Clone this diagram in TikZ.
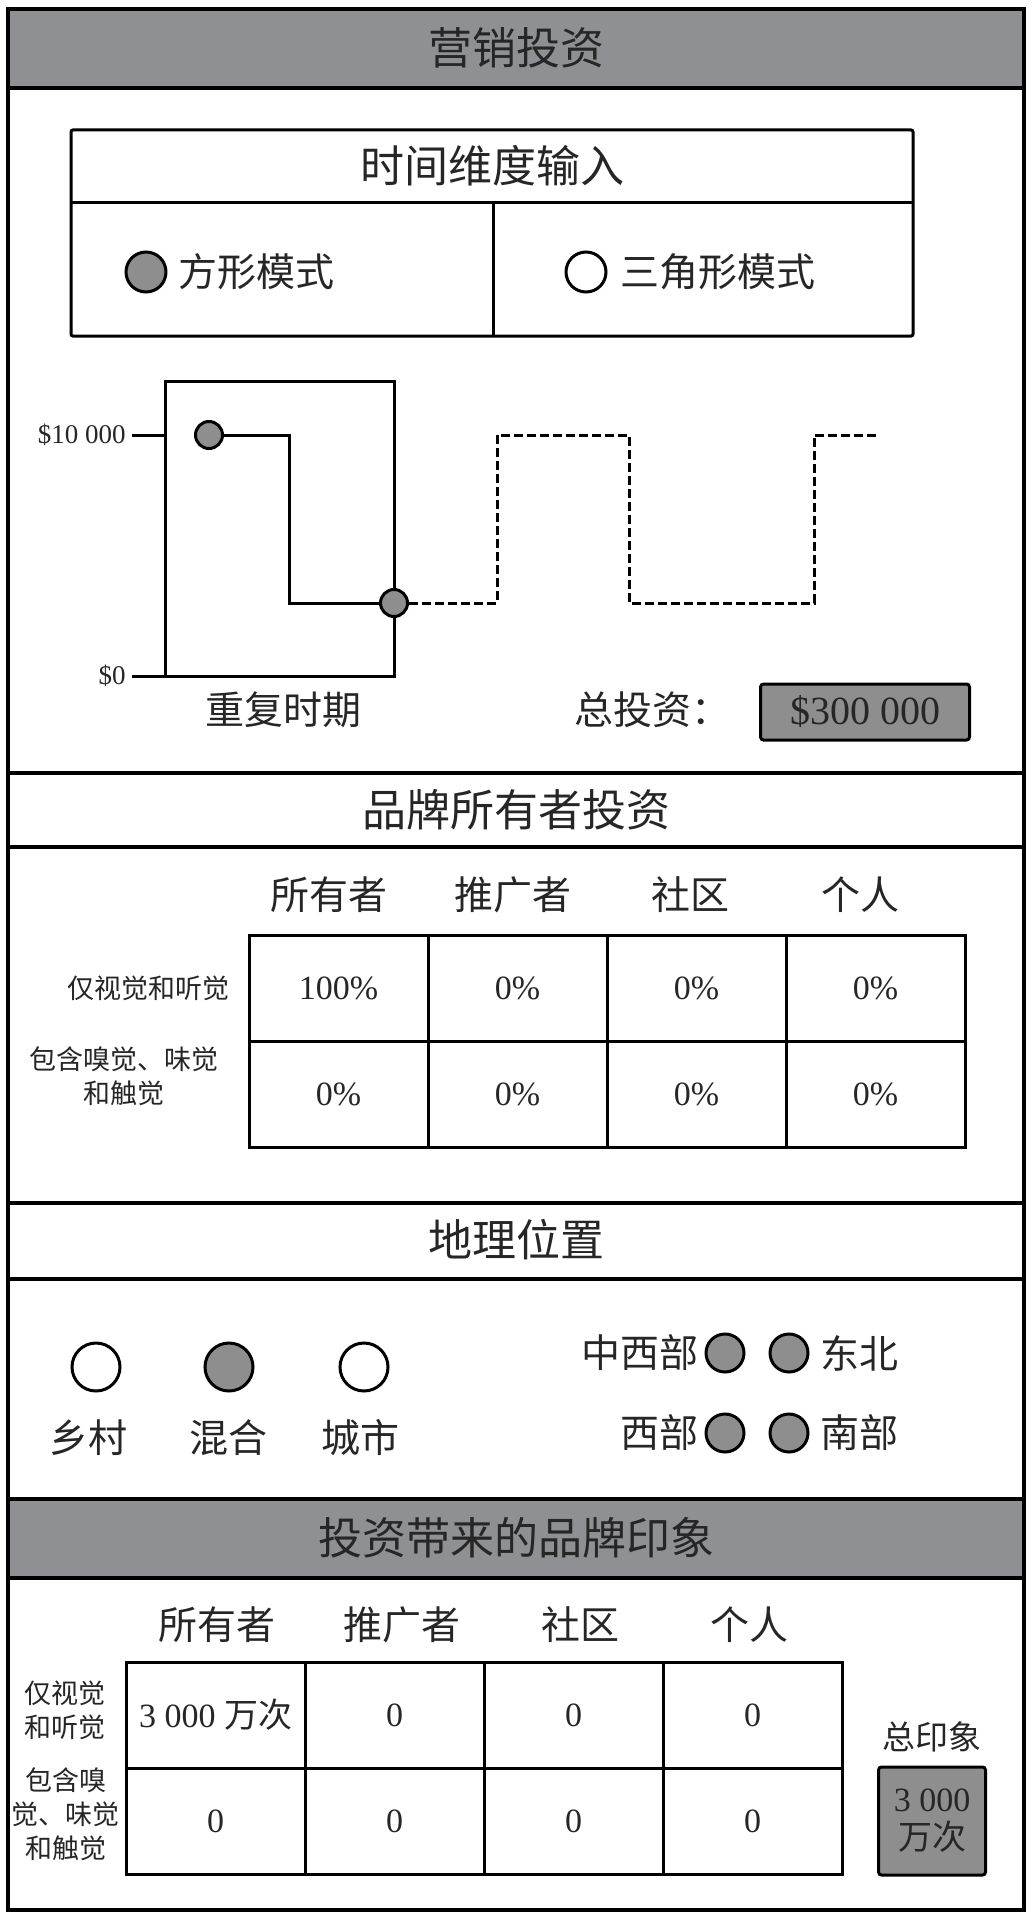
\documentclass[tikz,border=0pt]{standalone}
\usepackage{fontspec}
\setmainfont{Liberation Serif}
\newfontfamily\cjk{Noto Sans CJK SC}
\definecolor{bandgray}{HTML}{8F9093}
\definecolor{dotgray}{HTML}{8E8E8E}

\begin{document}
\begin{tikzpicture}[
            x=1pt, y=-1pt,
            line width=3pt,
            every node/.style={text=black!85, inner sep=0pt},
            head/.style={font=\cjk\fontsize{44}{48}\selectfont},
            txt/.style={font=\cjk\fontsize{39}{44}\selectfont},
            small/.style={font=\cjk\fontsize{27}{34}\selectfont, align=center},
            num/.style={font=\fontsize{34}{38}\selectfont, align=center},
            cell/.style={draw, minimum width=179pt, minimum height=106pt, num},
            valbox/.style={draw, fill=dotgray, rounded corners=3pt, num},
            radio/.style={draw, circle, minimum size=40pt},
            geo/.style={draw, circle, minimum size=48pt},
            region/.style={draw, circle, fill=dotgray, minimum size=38pt},
            dot/.style={draw, circle, fill=dotgray, minimum size=27pt},
            dashline/.style={dash pattern=on 9pt off 4pt},
            ]
            \useasboundingbox (0,0) rectangle (1033,1918);
            % bands and section lines
            \fill[bandgray] (8,9) rectangle (1024,88);
            \fill[bandgray] (8,1499) rectangle (1024,1578);
            \foreach \y in {88, 773, 847, 1203, 1279, 1499, 1578}
                \draw[line width=3.5pt] (8,\y) -- (1024,\y);
            \draw[line width=3.5pt] (8,9) rectangle (1024,1910);
            \node[head] (title) at (516,48) {营销投资};

            % time input
            \draw[rounded corners=2pt] (71,130) rectangle (913,336);
            \draw (71,203) -- (913,203);
            \draw (493,203) -- (493,336);
            \node[head] (timehead) at (492,166) {时间维度输入};
            \node[radio, fill=dotgray] (square) at (146,272) {};
            \node[txt, anchor=west] (squaretxt) at (177,272) {方形模式};
            \node[radio] (tri) at (586,272) {};
            \node[txt, anchor=west] (tritxt) at (619,272) {三角形模式};

            % chart
            \draw (165,676) -- (165,381) -- (394,381) -- (394,676) -- (165,676);
            \coordinate (top) at (165,435);
            \coordinate (base) at (165,676);
            \node[anchor=east, font=\fontsize{27}{30}\selectfont] (ten) at (127,435) {\$10 000};
            \node[anchor=east, font=\fontsize{27}{30}\selectfont] (zero) at (127,676) {\$0};
            \draw (ten.east) ++(5,0) -- (top);
            \draw (zero.east) ++(5,0) -- (base);
            \node[dot] (p1) at (209,435) {};
            \node[dot] (p2) at (394,603) {};
            \coordinate (step) at (289,435);
            \draw (p1) -- (step) |- (p2);
            \draw[dashline] (p2) -- (497,603) -- (497,435) -- (629,435) -- (629,603)
                -- (814,603) -- (814,435) -- (879,435);
            \node[txt] (period) at (283,710) {重复时期};
            \node[txt] (totaltxt) at (652,710) {总投资：};
            \node[valbox, minimum width=209pt, minimum height=56pt,
                font=\fontsize{40}{42}\selectfont] (total) at (865,712) {\$300 000};

            % owner investment
            \node[head] (ownerhead) at (516,810) {品牌所有者投资};
            \foreach \t/\x in {所有者/329, 推广者/513, 社区/690, 个人/860}
                \node[txt] at (\x,895) {\t};
            \foreach \v [count=\i] in {100\%, 0\%, 0\%, 0\%}
                \node[cell] (a1-\i) at ({249+179*(\i-0.5)},988) {\v};
            \foreach \i in {1,...,4}
                \node[cell] (a2-\i) at ({249+179*(\i-0.5)},1094) {0\%};
            \node[small, anchor=east] (rowa1) at (231,988) {仅视觉和听觉};
            \node[small] (rowa2) at (124,1076) {包含嗅觉、味觉\\和触觉};

            % location
            \node[head] (lochead) at (516,1240) {地理位置};
            \node[geo] (rural) at (96,1367) {};
            \node[geo, fill=dotgray] (mixed) at (229,1367) {};
            \node[geo] (urban) at (364,1367) {};
            \node[txt] at (88,1438) {乡村};
            \node[txt] at (228,1438) {混合};
            \node[txt] at (360,1438) {城市};
            \node[region] (mw) at (725,1353) {};
            \node[region] (ne) at (789,1353) {};
            \node[region] (w) at (725,1433) {};
            \node[region] (s) at (789,1433) {};
            \node[txt, anchor=east] at (700,1353) {中西部};
            \node[txt, anchor=west] at (819,1353) {东北};
            \node[txt, anchor=east] at (700,1433) {西部};
            \node[txt, anchor=west] at (819,1433) {南部};

            % impressions
            \node[head] (imphead) at (516,1538) {投资带来的品牌印象};
            \foreach \t/\x in {所有者/217, 推广者/402, 社区/580, 个人/749}
                \node[txt] at (\x,1625) {\t};
            \foreach \v [count=\i] in {{3 000 {\cjk 万次}}, 0, 0, 0}
                \node[cell] (b1-\i) at ({126+179*(\i-0.5)},1715) {\v};
            \foreach \i in {1,...,4}
                \node[cell] (b2-\i) at ({126+179*(\i-0.5)},1821) {0};
            \node[small] (rowb1) at (65,1710) {仅视觉\\和听觉};
            \node[small] (rowb2) at (66,1814) {包含嗅\\觉、味觉\\和触觉};
            \node[font=\cjk\fontsize{33}{38}\selectfont] (imptxt) at (932,1737) {总印象};
            \node[valbox, minimum width=107pt, minimum height=108pt] (imp) at (932,1821)
                {3 000\\{\cjk 万次}};
        \end{tikzpicture}
\end{document}
